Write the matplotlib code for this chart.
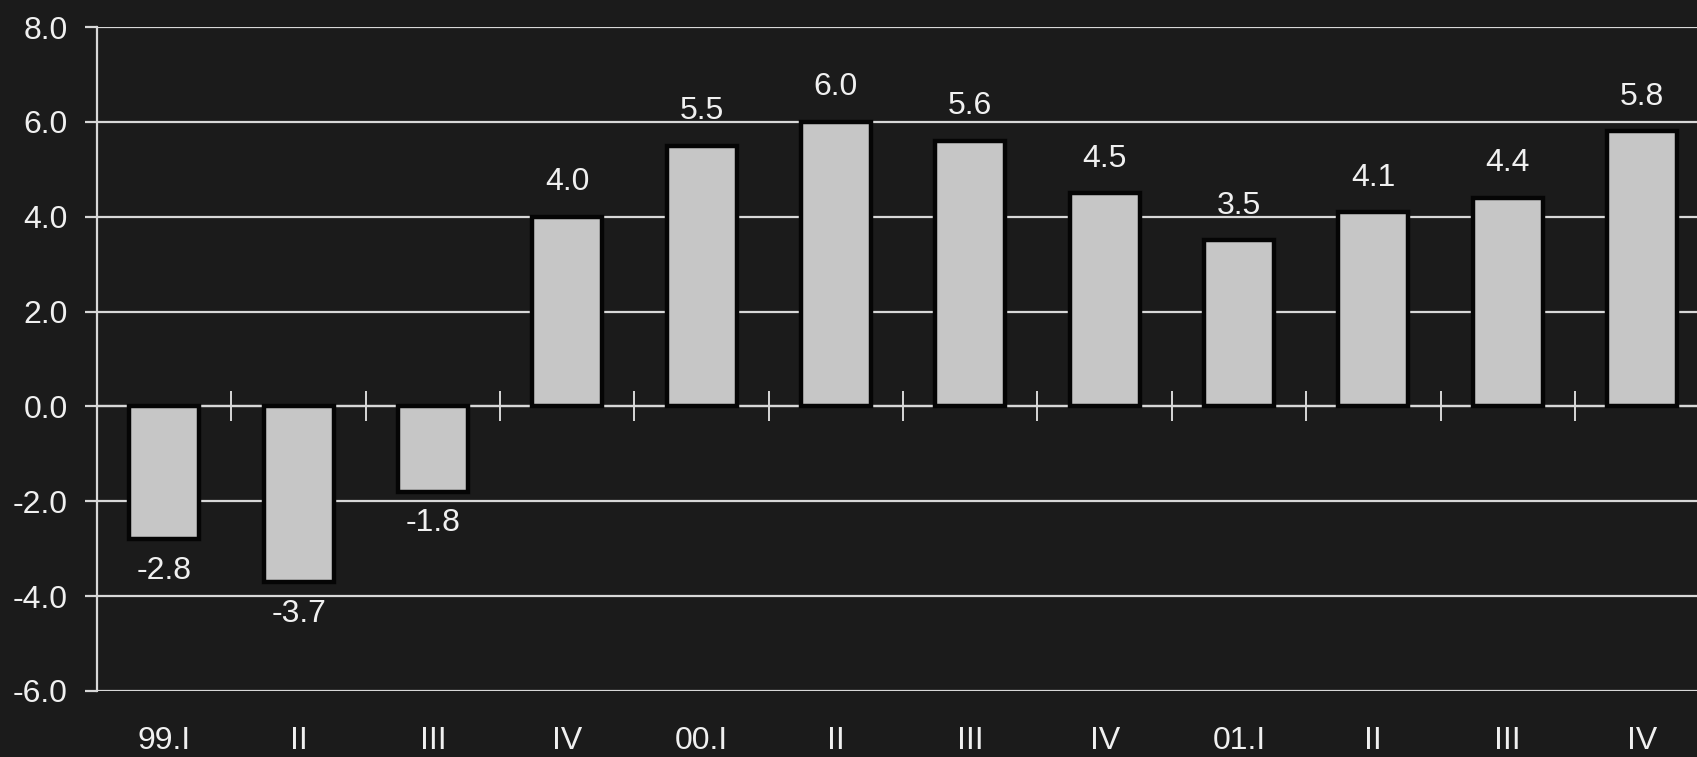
import matplotlib
matplotlib.use('Agg')
from matplotlib import pyplot as plt
from numpy import *

quarters = ['99.I', 'II', 'III', 'IV', '00.I', 'II', 'III', 'IV', '01.I', 'II', 'III', 'IV']
growth = [-2.8, -3.7, -1.8, 4.0, 5.5, 6.0, 5.6, 4.5, 3.5, 4.1, 4.4, 5.8]
yticks = [-6, -4, -2, 0, 2, 4, 6, 8]

bg = '#1b1b1b'
fg = '#f0f0f0'
plt.rcParams['font.family'] = ['Liberation Sans', 'DejaVu Sans']

fig = plt.figure(figsize=(16.97, 7.57), dpi=100, facecolor=bg)
ax = fig.add_axes([0.0572, 0.0872, 0.950, 0.8771], facecolor=bg)

x = arange(len(quarters))
ax.set_xlim(-0.5, len(quarters) - 0.5)
ax.set_ylim(-6, 8)

# grid under the bars
ax.set_axisbelow(True)
ax.set_yticks(yticks)
ax.set_yticklabels(['%.1f' % v for v in yticks], color=fg, fontsize=23)
ax.grid(axis='y', color='#d8d8d8', lw=1.6)
ax.tick_params(axis='y', direction='out', length=9, width=1.6, color='#d8d8d8', pad=12)

ax.set_xticks(x)
ax.set_xticklabels(quarters, color=fg, fontsize=23)
ax.tick_params(axis='x', length=0, pad=25)

for s in ['top', 'right', 'bottom']:
    ax.spines[s].set_visible(False)
ax.spines['left'].set_color('#d8d8d8')
ax.spines['left'].set_linewidth(1.6)

ax.bar(x, growth, width=0.52, color='#c6c6c6', edgecolor='#050505', linewidth=3.2, zorder=3)

# zero line with category boundary ticks
ax.axhline(0, color='#d8d8d8', lw=1.6, zorder=2)
bounds = x[:-1] + 0.5
ax.plot(bounds, zeros(len(bounds)), ls='none', marker='|', ms=22, mew=1.4, color='#d8d8d8', zorder=2)

for xi, v in zip(x, growth):
    if v >= 0:
        ax.annotate('%.1f' % v, (xi, v), xytext=(0, 14), textcoords='offset points',
                    ha='center', va='bottom', color=fg, fontsize=23)
    else:
        ax.annotate('%.1f' % v, (xi, v), xytext=(0, -12), textcoords='offset points',
                    ha='center', va='top', color=fg, fontsize=23)

plt.savefig('out.png', dpi=100, facecolor=bg)
